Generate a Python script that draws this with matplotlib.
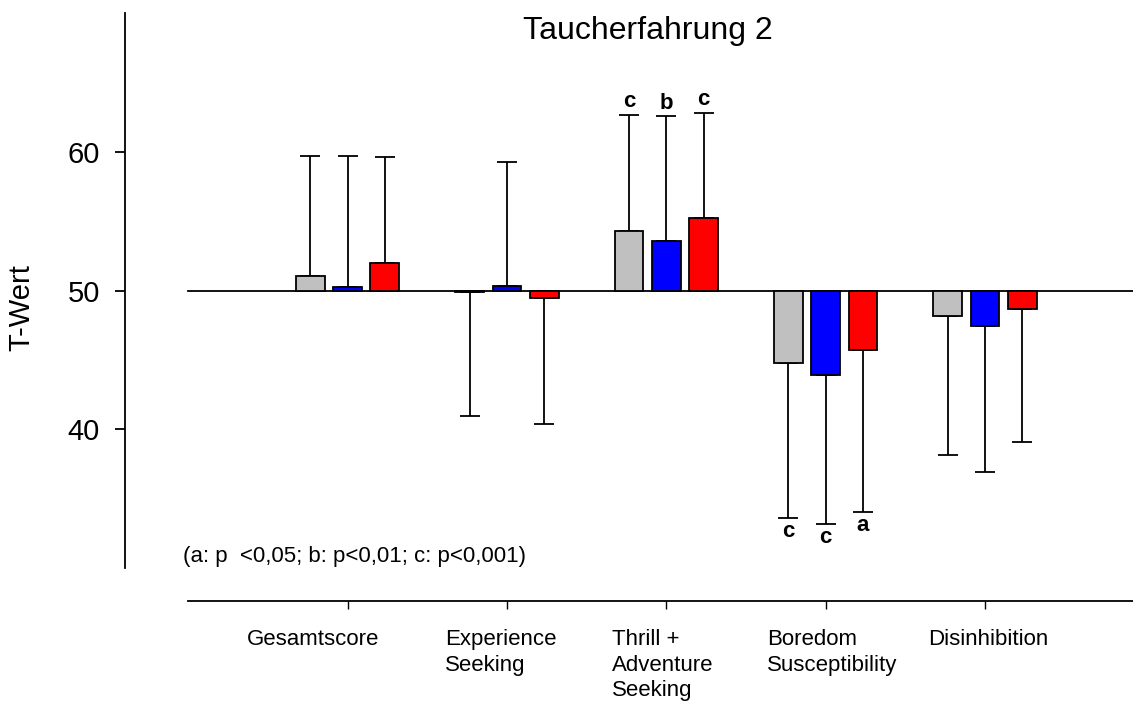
import numpy as np
import matplotlib
matplotlib.use("Agg")
import matplotlib.pyplot as plt

plt.rcParams['font.family'] = ['Liberation Sans', 'DejaVu Sans']

categories = ["Gesamtscore", "Experience\nSeeking", "Thrill +\nAdventure\nSeeking",
              "Boredom\nSusceptibility", "Disinhibition"]
series_colors = ["#C0C0C0", "#0000FF", "#FF0000"]

mean_grey = [51.03, 49.88, 54.33, 44.80, 48.15]
mean_blue = [50.24, 50.31, 53.59, 43.91, 47.47]
mean_red = [51.97, 49.47, 55.20, 45.76, 48.70]

sd_grey = [8.67, 8.91, 8.33, 11.21, 10.01]
sd_blue = [9.46, 8.95, 8.97, 10.75, 10.51]
sd_red = [7.65, 9.10, 7.60, 11.71, 9.60]

sig_grey = ["", "", "c", "c", ""]
sig_blue = ["", "", "b", "c", ""]
sig_red = ["", "", "c", "a", ""]

yticks = [40, 50, 60]
title = "Taucherfahrung 2"
ylabel = "T-Wert"
note = "(a: p  <0,05; b: p<0,01; c: p<0,001)"

W, H = 1133, 704
fig = plt.figure(figsize=(W / 100, H / 100), dpi=100)
ax = fig.add_axes([125 / W, 0, 1008 / W, 1])
ax.set_xlim(-1.396, 4.928)
ax.set_ylim(20.22, 70.94)

x = np.arange(len(categories))
width = 0.18
offsets = [-0.234, 0.0, 0.234]
means = [mean_grey, mean_blue, mean_red]
sds = [sd_grey, sd_blue, sd_red]
sigs = [sig_grey, sig_blue, sig_red]
lw = 1.3

ax.axhline(50, xmin=(-1.0 + 1.396) / 6.324, xmax=1, color='black', lw=lw, zorder=1)

for m, s, sg, off, col in zip(means, sds, sigs, offsets, series_colors):
    m = np.array(m)
    s = np.array(s)
    pos = x + off
    lower = np.where(m < 50, s, 0)
    upper = np.where(m >= 50, s, 0)
    ax.errorbar(pos, m, yerr=[lower, upper], fmt='none', ecolor='black',
                elinewidth=lw, capsize=7.2, capthick=lw, zorder=1.5)
    ax.bar(pos, m - 50, width, bottom=50, color=col, edgecolor='black',
           linewidth=lw, zorder=2)
    for xi, mi, si, lab in zip(pos, m, s, sg):
        if not lab:
            continue
        if mi >= 50:
            ax.annotate(lab, (xi, mi + si), xytext=(0, 7.5), textcoords='offset pixels',
                        ha='center', va='baseline', fontsize=16, fontweight='bold')
        else:
            ax.annotate(lab, (xi, mi - si), xytext=(0, -19), textcoords='offset pixels',
                        ha='center', va='baseline', fontsize=16, fontweight='bold')

for sp in ['top', 'right']:
    ax.spines[sp].set_visible(False)
ax.spines['left'].set_bounds(30, 70)
ax.spines['left'].set_linewidth(lw)
ax.spines['bottom'].set_position(('data', 27.67))
ax.spines['bottom'].set_bounds(-1.0, 4.928)
ax.spines['bottom'].set_linewidth(lw)

ax.set_yticks(yticks)
ax.set_yticklabels([str(t) for t in yticks], fontsize=21)
ax.tick_params(axis='y', direction='out', length=7.2, width=lw, pad=11)
ax.set_xticks(x)
ax.set_xticklabels([""] * len(x))
ax.tick_params(axis='x', direction='out', length=5.5, width=1.0)

label_offsets = [-0.632, -0.388, -0.343, -0.366, -0.356]
label_top_y = 25.59
for xi, lab, lo in zip(x, categories, label_offsets):
    ax.text(xi + lo, label_top_y, lab, ha='left', va='top',
            fontsize=16, linespacing=1.28)

fig.text(648 / W, 1 - 39 / H, title, ha='center', va='baseline', fontsize=23)
fig.text(21.5 / W, 1 - 307.5 / H, ylabel, ha='center', va='center',
         rotation=90, fontsize=21)
fig.text(182.7 / W, 1 - 561.7 / H, note, ha='left', va='baseline', fontsize=16)

fig.savefig("out.png", dpi=100)
